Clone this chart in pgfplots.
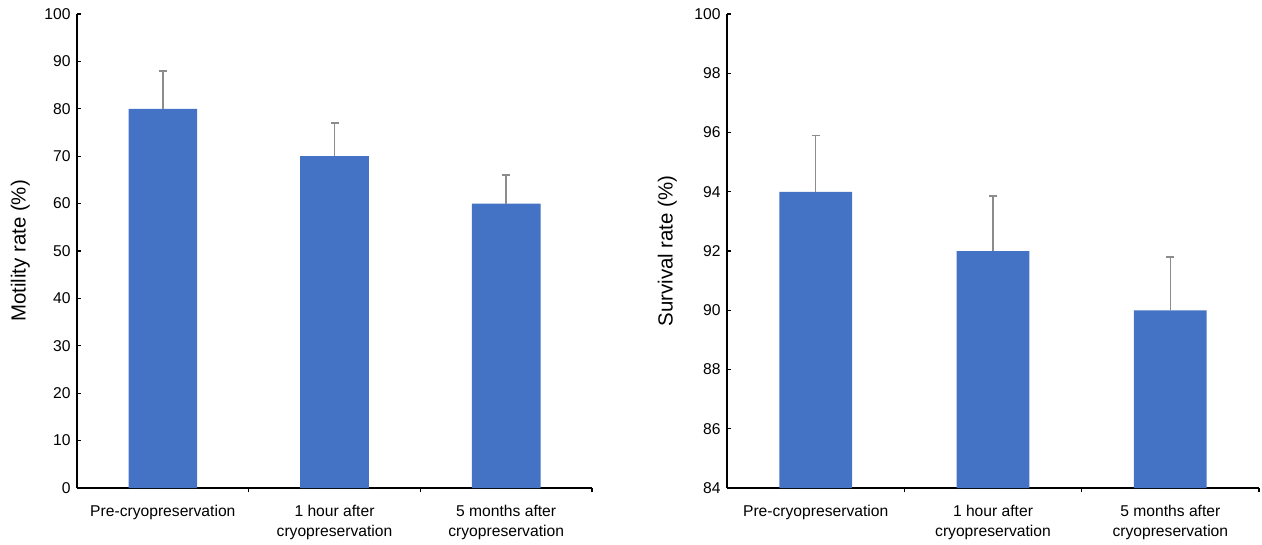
\documentclass[border=0pt]{standalone}
\usepackage{fontspec}
\setmainfont{Liberation Sans}
\usepackage{pgfplots}
\pgfplotsset{compat=1.18}
\definecolor{barblue}{HTML}{4472C4}
\definecolor{errgray}{HTML}{8C8C8C}

\pgfplotsset{
 mystyle/.style={
  scale only axis,
  anchor=south west,
  axis x line=bottom, axis y line=left,
  axis line style={-, line width=1.6bp, black},
  xmin=-0.5, xmax=2.5,
  xtick={0.5,1.5,2.5}, xticklabels={},
  extra x ticks={0,1,2},
  extra x tick labels={Pre-cryopreservation,{1 hour after\\cryopreservation},{5 months after\\cryopreservation}},
  extra x tick style={major tick length=0pt},
  tick align=inside, major tick length=4bp,
  tick style={black, line width=1.3bp},
  minor tick num=0,
  xticklabel style={font=\fontsize{15.7}{19.5}\selectfont, align=center, yshift=-14bp},
  yticklabel style={font=\fontsize{15.7}{19}\selectfont, xshift=-3bp},
  /pgf/number format/assume math mode=true,
  ybar, bar width=0.4,
  myerr/.style={error bars/.cd, y dir=plus, y explicit, error mark=|,
    error bar style={draw=errgray, line width=1.6bp},
    error mark options={draw=errgray, line width=1.6bp, mark size=4bp}},
 }
}

\begin{document}
\begin{tikzpicture}
\path[use as bounding box] (0,0) rectangle (1262bp,-545bp);

\begin{axis}[mystyle,
  at={(77bp,-488bp)}, width=515bp, height=474bp,
  ymin=0, ymax=100, ytick={0,10,...,100},
  ylabel={Motility rate (\%)},
  every axis y label/.style={at={(axis description cs:-0.11,0.5)}, rotate=90, anchor=center, font=\fontsize{20.5}{24}\selectfont},
]
\addplot[fill=barblue, draw=none, myerr]
  coordinates {(0,80) +- (0,8) (1,70) +- (0,7) (2,60) +- (0,6)};
\end{axis}

\begin{axis}[mystyle,
  at={(727bp,-488bp)}, width=532bp, height=474bp,
  ymin=84, ymax=100, ytick={84,86,...,100},
  ylabel={Survival rate (\%)},
  every axis y label/.style={at={(axis description cs:-0.112,0.5)}, rotate=90, anchor=center, font=\fontsize{20.5}{24}\selectfont},
  bar width=0.41,
]
\addplot[fill=barblue, draw=none, myerr]
  coordinates {(0,94) +- (0,1.9) (1,92) +- (0,1.85) (2,90) +- (0,1.8)};
\end{axis}
\end{tikzpicture}
\end{document}
